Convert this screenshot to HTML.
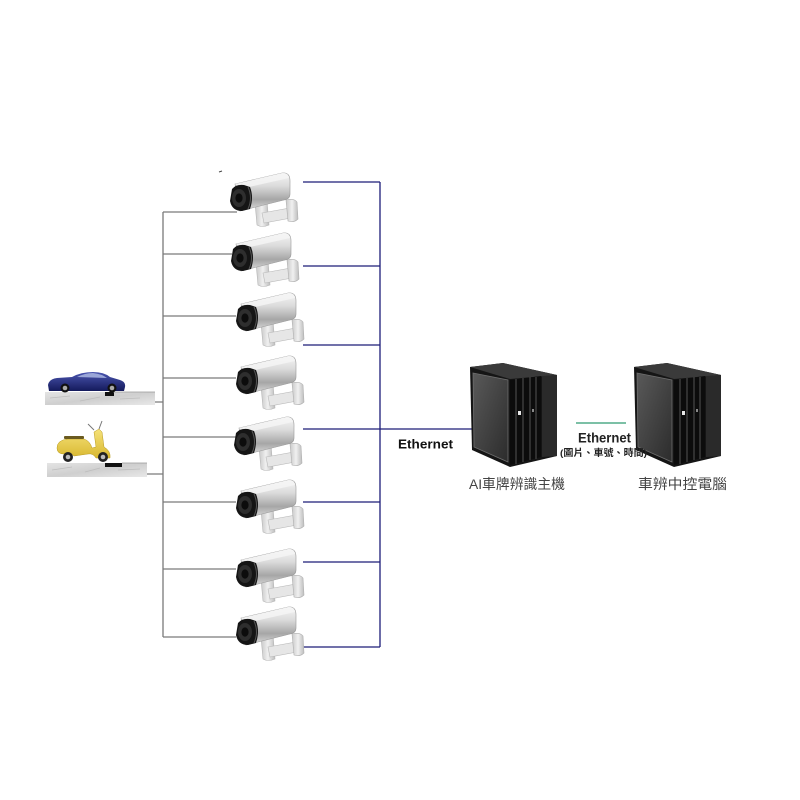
<!DOCTYPE html>
<html><head><meta charset="utf-8"><style>
html,body{margin:0;padding:0;background:#fff;}
svg{display:block;}
</style></head><body>
<svg width="800" height="800" viewBox="0 0 800 800" xmlns="http://www.w3.org/2000/svg">
<defs>
  <linearGradient id="silver" x1="0" y1="0" x2="0" y2="1">
    <stop offset="0" stop-color="#f7f7f7"/>
    <stop offset="0.35" stop-color="#dadada"/>
    <stop offset="0.7" stop-color="#a6a6a6"/>
    <stop offset="1" stop-color="#dedede"/>
  </linearGradient>
  <linearGradient id="brk" x1="0" y1="0" x2="1" y2="0">
    <stop offset="0" stop-color="#c9c9c9"/>
    <stop offset="0.5" stop-color="#f0f0f0"/>
    <stop offset="1" stop-color="#bdbdbd"/>
  </linearGradient>
  <linearGradient id="glass" x1="0" y1="0" x2="1" y2="1">
    <stop offset="0" stop-color="#595959"/>
    <stop offset="1" stop-color="#2c2c2c"/>
  </linearGradient>
  <linearGradient id="marble" x1="0" y1="0" x2="1" y2="1">
    <stop offset="0" stop-color="#e4e4e4"/>
    <stop offset="0.5" stop-color="#cfcfcf"/>
    <stop offset="1" stop-color="#e8e8e8"/>
  </linearGradient>
  <linearGradient id="carg" x1="0" y1="0" x2="0" y2="1">
    <stop offset="0" stop-color="#4a55b0"/>
    <stop offset="1" stop-color="#141a5c"/>
  </linearGradient>
  <linearGradient id="yel" x1="0" y1="0" x2="0" y2="1">
    <stop offset="0" stop-color="#f6e27a"/>
    <stop offset="1" stop-color="#d8b830"/>
  </linearGradient>

  <g id="cam">
    <path d="M27,30 L39,28 L41,52 Q34,55 29,52 Z" fill="url(#brk)" stroke="#b5b5b5" stroke-width="0.6"/>
    <path d="M34,40 L62,35 L63,45 L36,50 Z" fill="#e6e6e6" stroke="#b8b8b8" stroke-width="0.6"/>
    <path d="M58,27 Q66,25 69,29 L70,46 Q66,50 60,48 Z" fill="url(#brk)" stroke="#b0b0b0" stroke-width="0.6"/>
    <path d="M7,11 L54,0 Q62,-1 62,8 L62,21 Q62,26 56,27 L12,38 Z" fill="url(#silver)" stroke="#9a9a9a" stroke-width="0.6"/>
    <path d="M7,11 L54,0 Q60,-1 61,5 L12,16 Z" fill="#f4f4f4" opacity="0.85"/>
    <path d="M4,16 Q8,11 16,12 L22,14 Q26,24 22,36 L14,38 Q4,38 2,28 Z" fill="#151515"/>
    <ellipse cx="11" cy="25" rx="7" ry="9" fill="#2e2e2e"/>
    <ellipse cx="11" cy="25" rx="3.6" ry="4.6" fill="#0c0c0c"/>
    <path d="M20,14 Q25,25 20,36" stroke="#555" stroke-width="1" fill="none"/>
  </g>

  <g id="srv">
    <polygon points="1,3 34,-1 88,11 88,92 41,103 3,86" fill="#151515"/>
    <polygon points="1,3 34,-1 88,11 41,15" fill="#3a3a3a"/>
    <polygon points="4,9 39,16 39,98 5,83" fill="url(#glass)" stroke="#6e6e6e" stroke-width="0.8"/>
    <polygon points="41,16 72,12 72,93 41,101" fill="#0c0c0c"/>
    <line x1="47" y1="15" x2="47" y2="100" stroke="#484848" stroke-width="1.2"/>
    <line x1="54" y1="14" x2="54" y2="98" stroke="#484848" stroke-width="1.2"/>
    <line x1="61" y1="13" x2="61" y2="96" stroke="#484848" stroke-width="1.2"/>
    <line x1="67" y1="13" x2="67" y2="95" stroke="#484848" stroke-width="1.2"/>
    <rect x="49" y="47" width="3" height="4" fill="#e8e8e8"/>
    <rect x="63" y="45" width="2" height="3" fill="#888"/>
    <polygon points="73,12 88,11 88,92 73,93" fill="#2a2a2a"/>
  </g>
</defs>

<line x1="219" y1="172" x2="222" y2="171" stroke="#444" stroke-width="1"/>

<g stroke="#7a7a7a" stroke-width="1.3" fill="none">
  <line x1="163" y1="212" x2="163" y2="637"/>
  <line x1="163" y1="212" x2="237" y2="212"/>
  <line x1="163" y1="254" x2="232" y2="254"/>
  <line x1="163" y1="316" x2="236" y2="316"/>
  <line x1="163" y1="378" x2="236" y2="378"/>
  <line x1="163" y1="437" x2="236" y2="437"/>
  <line x1="163" y1="502" x2="236" y2="502"/>
  <line x1="163" y1="569" x2="236" y2="569"/>
  <line x1="163" y1="637" x2="236" y2="637"/>
  <polyline points="113,396 113,402 163,402"/>
  <polyline points="113,467 113,474 163,474"/>
</g>

<g stroke="#1c1c78" stroke-width="1.3" fill="none">
  <line x1="380" y1="182" x2="380" y2="647"/>
  <line x1="303" y1="182" x2="380" y2="182"/>
  <line x1="303" y1="266" x2="380" y2="266"/>
  <line x1="303" y1="345" x2="380" y2="345"/>
  <line x1="303" y1="429" x2="380" y2="429"/>
  <line x1="303" y1="502" x2="380" y2="502"/>
  <line x1="303" y1="562" x2="380" y2="562"/>
  <line x1="303" y1="647" x2="380" y2="647"/>
  <line x1="380" y1="429" x2="472" y2="429"/>
</g>

<line x1="576" y1="423" x2="626" y2="423" stroke="#2f9a70" stroke-width="1.3"/>

<use href="#cam" x="228" y="173"/>
<use href="#cam" x="229" y="233"/>
<use href="#cam" x="234" y="293"/>
<use href="#cam" x="234" y="356"/>
<use href="#cam" x="232" y="417"/>
<use href="#cam" x="234" y="480"/>
<use href="#cam" x="234" y="549"/>
<use href="#cam" x="234" y="607"/>

<rect x="45" y="392" width="110" height="13" fill="url(#marble)"/>
<path d="M50,398 L70,396 M80,401 L100,397 M120,399 L140,398" stroke="#bdbdbd" stroke-width="0.8"/>
<rect x="105" y="392" width="9" height="4" fill="#111"/>
<line x1="113" y1="392" x2="155" y2="392" stroke="#999" stroke-width="0.8"/>
<path d="M48,385 Q49,379 57,378 L72,377 Q81,372 93,372 Q104,372 110,377 L120,380 Q126,382 125,387 L124,391 L49,391 Z" fill="url(#carg)"/>
<path d="M77,377 Q85,373 93,373 Q102,374 107,378 Z" fill="#9aa6d8"/>
<circle cx="65" cy="388" r="4.5" fill="#111"/><circle cx="65" cy="388" r="2.3" fill="#aaa"/>
<circle cx="112" cy="388" r="4.5" fill="#111"/><circle cx="112" cy="388" r="2.3" fill="#aaa"/>

<rect x="47" y="463" width="100" height="14" fill="url(#marble)"/>
<path d="M52,470 L72,467 M85,472 L100,468 M118,470 L140,469" stroke="#bdbdbd" stroke-width="0.8"/>
<rect x="105" y="463" width="17" height="4" fill="#111"/>
<line x1="122" y1="463" x2="147" y2="463" stroke="#999" stroke-width="0.8"/>
<path d="M57,448 Q57,440 68,439 L84,439 Q90,441 92,448 L96,447 L94,432 L99,429 L102,432 L104,447 Q111,451 110,458 L96,458 Q93,453 88,454 L74,456 Q70,452 64,454 Q57,454 57,448 Z" fill="url(#yel)" stroke="#b89a20" stroke-width="0.5"/>
<path d="M94,430 L88,424 M99,429 L102,421" stroke="#777" stroke-width="1"/>
<rect x="64" y="436" width="20" height="3" rx="1" fill="#6a5a20"/>
<circle cx="68" cy="457" r="5" fill="#222"/><circle cx="68" cy="457" r="2.3" fill="#bbb"/>
<circle cx="103" cy="457" r="5" fill="#222"/><circle cx="103" cy="457" r="2.3" fill="#bbb"/>

<use href="#srv" x="469" y="364"/>
<use href="#srv" x="633" y="364"/>

<text x="398" y="448.5" font-family="'Liberation Sans', sans-serif" font-size="12.5" font-weight="bold" fill="#111" textLength="55" lengthAdjust="spacingAndGlyphs">Ethernet</text>
<text x="578" y="442.5" font-family="'Liberation Sans', sans-serif" font-size="13.5" font-weight="bold" fill="#222" textLength="53" lengthAdjust="spacingAndGlyphs">Ethernet</text>
<text x="560" y="456" font-family="'Liberation Sans', 'Noto Sans CJK TC', sans-serif" font-size="9.5" font-weight="bold" fill="#222" textLength="87" lengthAdjust="spacingAndGlyphs">(圖片、車號、時間)</text>
<text x="469" y="489" font-family="'Liberation Sans', 'Noto Sans CJK TC', sans-serif" font-size="14" fill="#444" textLength="96" lengthAdjust="spacingAndGlyphs">AI車牌辨識主機</text>
<text x="638" y="489" font-family="'Liberation Sans', 'Noto Sans CJK TC', sans-serif" font-size="14" fill="#444" textLength="89" lengthAdjust="spacingAndGlyphs">車辨中控電腦</text>
</svg>
</body></html>
